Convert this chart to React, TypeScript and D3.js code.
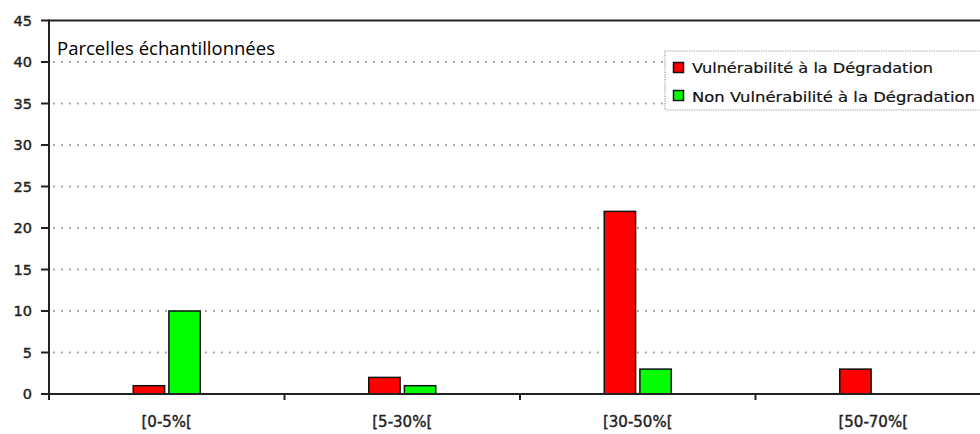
import React from "react";
import * as d3 from "d3";

const categories = ["[0-5%[", "[5-30%[", "[30-50%[", "[50-70%["];
const seriesNames = ["Vulnérabilité à la Dégradation", "Non Vulnérabilité à la Dégradation"];
const vulnerable = [1, 2, 22, 3];
const nonVulnerable = [10, 1, 3, 0];
const seriesColors = ["#ff0000", "#00ff00"];
const yTicks = [0, 5, 10, 15, 20, 25, 30, 35, 40, 45];
const title = "Parcelles échantillonnées";

export default function App() {
  const W = 980, H = 434;
  const left = 49, top = 20.5, bottom = 394;
  const catStep = 235.5;
  const x0 = d3.scaleBand<string>().domain(categories).range([left, left + catStep * categories.length]).padding(0);
  const groupW = 67;
  const x1 = d3.scaleBand<string>().domain(seriesNames).range([0, groupW]).paddingInner(0.12);
  const y = d3.scaleLinear().domain([0, 45]).range([bottom, top]);
  const values = [vulnerable, nonVulnerable];
  const axisColor = "#222";
  const tickFont = "'DejaVu Sans', Verdana, sans-serif";
  const legendFont = "'DejaVu Sans', Verdana, sans-serif";
  const legendLens = [241, 283];

  return (
    <svg width={W} height={H} style={{ position: "absolute", left: 0, top: 0, background: "#fff" }}>
      {/* gridlines */}
      {yTicks.filter(t => t > 0 && t < 45).map(t => (
        <line key={"g" + t} x1={left + 4} x2={W} y1={y(t)} y2={y(t)} stroke="#aaa" strokeWidth={1.8} strokeDasharray="2,6" />
      ))}
      {/* top border */}
      <line x1={left} x2={W} y1={y(45)} y2={y(45)} stroke={axisColor} strokeWidth={2} />
      {/* bars */}
      {categories.map((c, i) => {
        const cx = (x0(c) as number) + x0.bandwidth() / 2 - groupW / 2;
        return seriesNames.map((s, j) => {
          const v = values[j][i];
          if (!v) return null;
          return (
            <rect key={c + s} x={cx + (x1(s) as number)} y={y(v)} width={x1.bandwidth()} height={y(0) - y(v)}
              fill={seriesColors[j]} stroke="#111" strokeWidth={1.5} />
          );
        });
      })}
      {/* axes */}
      <line x1={left} x2={left} y1={top - 1} y2={bottom + 6} stroke={axisColor} strokeWidth={2} />
      <line x1={left - 5} x2={W} y1={bottom} y2={bottom} stroke={axisColor} strokeWidth={2} />
      {yTicks.map(t => (
        <g key={"t" + t}>
          <line x1={left - 8} x2={left} y1={y(t)} y2={y(t)} stroke={axisColor} strokeWidth={2} />
          <text x={32} y={y(t)} dy="0.36em" textAnchor="end" fontFamily={tickFont} fontSize={14.5} fill="#222" stroke="#222" strokeWidth={0.4}>{t}</text>
        </g>
      ))}
      {categories.slice(1).map(c => (
        <line key={"ct" + c} x1={x0(c) as number} x2={x0(c) as number} y1={bottom} y2={bottom + 6} stroke={axisColor} strokeWidth={2} />
      ))}
      {categories.map(c => (
        <text key={"l" + c} x={(x0(c) as number) + x0.bandwidth() / 2} y={427} textAnchor="middle" fontFamily={tickFont} fontSize={15} fill="#222" stroke="#222" strokeWidth={0.4}>{c}</text>
      ))}
      {/* title */}
      <text x={57} y={55} fontFamily="'Open Sans', sans-serif" fontSize={19} fill="#000" textLength={218} lengthAdjust="spacingAndGlyphs">{title}</text>
      {/* legend */}
      <rect x={665} y={51} width={330} height={59} fill="#fff" stroke="#999" strokeWidth={1.2} strokeDasharray="1.2,1.2" />
      {seriesNames.map((s, j) => (
        <g key={"lg" + s}>
          <rect x={673.5} y={62.5 + j * 28} width={10} height={10} fill={seriesColors[j]} stroke="#111" strokeWidth={1.5} />
          <text x={692} y={73 + j * 28.5} fontFamily={legendFont} fontSize={14} fill="#111" stroke="#111" strokeWidth={0.2}
            textLength={legendLens[j]} lengthAdjust="spacingAndGlyphs">{s}</text>
        </g>
      ))}
    </svg>
  );
}
